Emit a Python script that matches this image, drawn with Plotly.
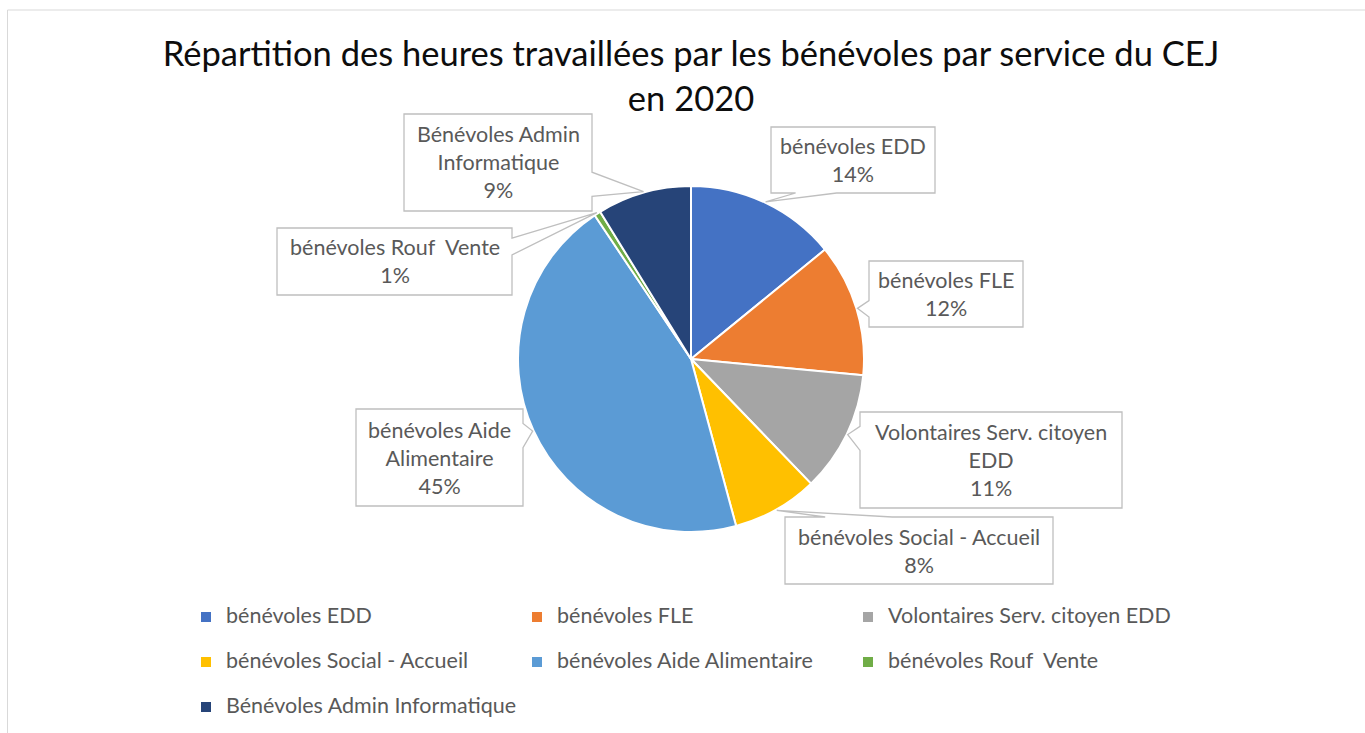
import math
import plotly.graph_objects as go

# ---------------- data ----------------
categories = [
    "bénévoles EDD",
    "bénévoles FLE",
    "Volontaires Serv. citoyen EDD",
    "bénévoles Social - Accueil",
    "bénévoles Aide Alimentaire",
    "bénévoles Rouf  Vente",
    "Bénévoles Admin Informatique",
]
shares = [14.1, 12.4, 11.3, 8.0, 44.8, 0.6, 8.8]
callout_names = [
    "bénévoles EDD",
    "bénévoles FLE",
    "Volontaires Serv. citoyen<br>EDD",
    "bénévoles Social - Accueil",
    "bénévoles Aide<br>Alimentaire",
    "bénévoles Rouf  Vente",
    "Bénévoles Admin<br>Informatique",
]
colors = ["#4472C4", "#ED7D31", "#A5A5A5", "#FFC000", "#5B9BD5", "#70AD47", "#264478"]
title_text = "Répartition des heures travaillées par les bénévoles par service du CEJ<br>en 2020"

# ---------------- layout geometry (pixels) ----------------
W, H = 1365, 733
ML, MR, MT, MB = 180, 180, 0, 0
PW, PH = W - ML - MR, H - MT - MB
CX, CY, R = 691, 359, 173
FONT = "Lato"
TXT = "#595959"
BOXLINE = "#BFBFBF"
LABEL_SIZE = 21.5

# callout boxes (x0, y0, x1, y1) in pixels
boxes = [
    (771, 127, 935, 193),
    (869, 261, 1023, 327),
    (860, 412, 1122, 508),
    (785, 517, 1053, 584),
    (356, 409, 523, 506),
    (277, 228, 512, 295),
    (404, 114, 592, 211),
]


def px(x, y):
    return (x - ML) / PW, 1 - (y - MT) / PH


def show(s):
    return s.replace("  ", " \u00a0")


def base_pair(lo, hi, t):
    L = hi - lo
    if t < (lo + hi) / 2:
        return lo + 0.15 * L, lo + 0.40 * L
    return lo + 0.60 * L, lo + 0.85 * L


def callout_path(box, tip):
    x0, y0, x1, y1 = box
    bx, by = (x0 + x1) / 2, (y0 + y1) / 2
    nx = (tip[0] - bx) / ((x1 - x0) / 2)
    ny = (tip[1] - by) / ((y1 - y0) / 2)
    if abs(ny) >= abs(nx):
        side = "top" if ny < 0 else "bottom"
    else:
        side = "left" if nx < 0 else "right"
    pts = [(x0, y0)]
    if side == "top":
        a, b = base_pair(x0, x1, tip[0])
        pts += [(a, y0), tip, (b, y0)]
    pts.append((x1, y0))
    if side == "right":
        a, b = base_pair(y0, y1, tip[1])
        pts += [(x1, a), tip, (x1, b)]
    pts.append((x1, y1))
    if side == "bottom":
        a, b = base_pair(x0, x1, tip[0])
        pts += [(b, y1), tip, (a, y1)]
    pts.append((x0, y1))
    if side == "left":
        a, b = base_pair(y0, y1, tip[1])
        pts += [(x0, b), tip, (x0, a)]
    conv = [px(*p) for p in pts]
    return "M " + " L ".join(f"{u:.5f},{v:.5f}" for u, v in conv) + " Z"


total = sum(shares)
dx0, dy0 = px(CX - R, CY + R)
dx1, dy1 = px(CX + R, CY - R)

# legend rows are 45 px apart: a second (empty) line makes each entry taller
LEG_LINE = 45 - 3
legend_font_size = LEG_LINE / 2 / 1.3
legend_labels = [
    f'<span style="font-size:{LABEL_SIZE}px">{show(c)}</span><br>\u00a0' for c in categories
]

fig = go.Figure(
    go.Pie(
        labels=legend_labels,
        values=shares,
        sort=False,
        direction="clockwise",
        rotation=0,
        textinfo="none",
        hoverinfo="percent",
        marker=dict(colors=colors, line=dict(color="white", width=2)),
        domain=dict(x=[dx0, dx1], y=[dy0, dy1]),
        showlegend=True,
    )
)

shapes = []
annotations = []
cum = 0.0
for i, v in enumerate(shares):
    mid = 2 * math.pi * (cum + v / 2) / total
    cum += v
    tip = (CX + (R + 1) * math.sin(mid), CY - (R + 1) * math.cos(mid))
    shapes.append(dict(
        type="path", xref="paper", yref="paper",
        path=callout_path(boxes[i], tip),
        fillcolor="white", line=dict(color=BOXLINE, width=1.3), layer="above",
    ))
    x0, y0, x1, y1 = boxes[i]
    ax, ay = px((x0 + x1) / 2, (y0 + y1) / 2)
    pct = round(100 * v / total)
    annotations.append(dict(
        x=ax, y=ay, xref="paper", yref="paper", xanchor="center", yanchor="middle",
        text=f"{show(callout_names[i])}<br>{pct}%", showarrow=False, align="center",
        font=dict(family=FONT, size=LABEL_SIZE, color=TXT),
    ))

# chart area frame (light grey)
fx0, fy0 = px(7.5, H + 10)
fx1, fy1 = px(W + 10, 10)
shapes.append(dict(type="rect", xref="paper", yref="paper", x0=fx0, y0=fy0, x1=fx1, y1=fy1,
                   line=dict(color="#D9D9D9", width=1), fillcolor="rgba(0,0,0,0)", layer="below"))

lx, ly = px(186, 600)
fig.update_layout(
    width=W, height=H,
    margin=dict(l=ML, r=MR, t=MT, b=MB, autoexpand=False),
    paper_bgcolor="white", plot_bgcolor="white",
    title=dict(text=title_text, x=691 / W, xref="container", xanchor="center",
               y=1 - 66 / H, yref="container", yanchor="top",
               font=dict(family=FONT, size=34.5, color="#0D0D0D")),
    legend=dict(orientation="h", x=lx, y=ly, xanchor="left", yanchor="top",
                entrywidth=286, entrywidthmode="pixels", itemwidth=30, valign="top",
                bgcolor="rgba(0,0,0,0)",
                font=dict(family=FONT, size=legend_font_size, color=TXT), traceorder="normal"),
    shapes=shapes,
    annotations=annotations,
    font=dict(family=FONT),
)

fig.write_html("out.html", config={"displayModeBar": False},
               post_script="document.body.style.margin='0px';")
